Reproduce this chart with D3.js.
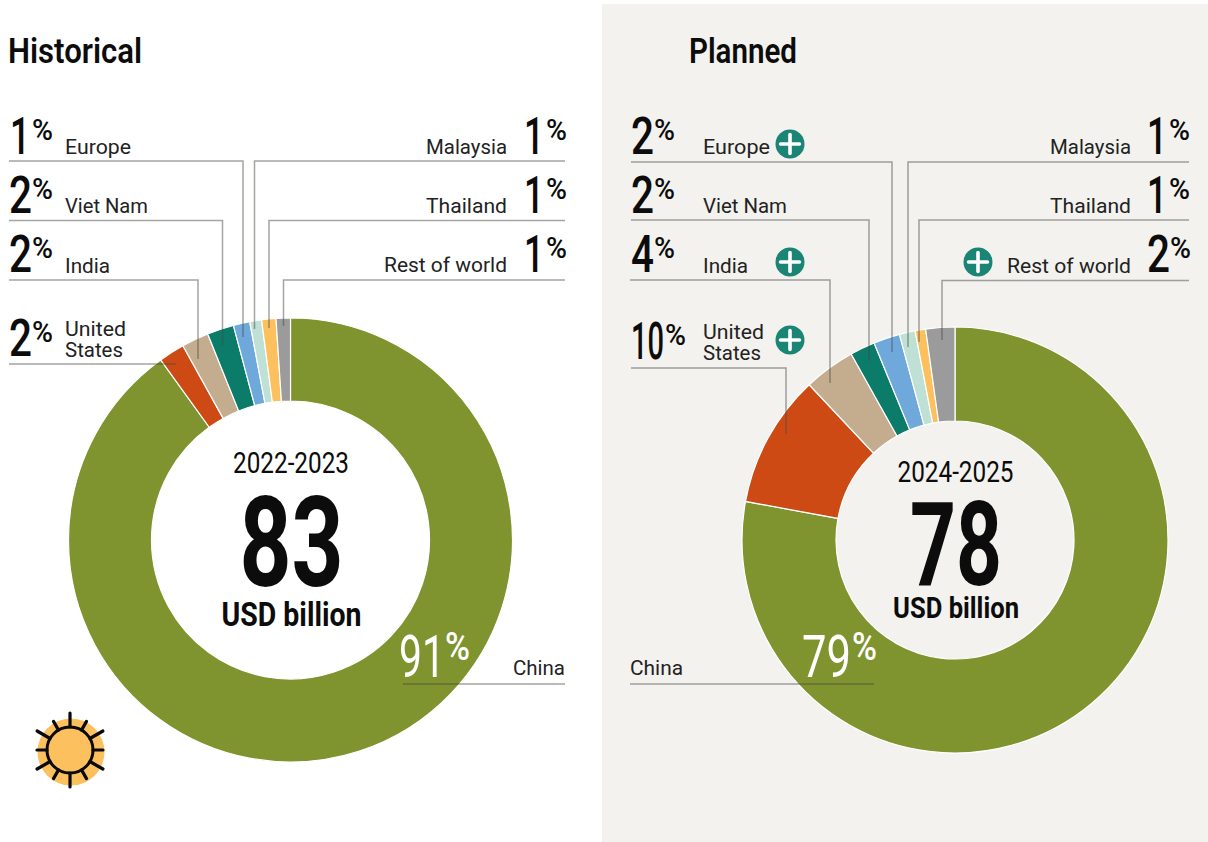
<!DOCTYPE html>
<html><head><meta charset="utf-8">
<script src="https://cdn.jsdelivr.net/npm/d3@7"></script>
<style>html,body{margin:0;padding:0;background:#fff}svg{display:block}text{font-family:Roboto,sans-serif}</style>
</head><body><svg id="c" width="1208" height="842"></svg>
<script>
const categories = ["China","United States","India","Viet Nam","Europe","Malaysia","Thailand","Rest of world"];
const colours = ["#7f932f","#cd4a14","#c4ad8e","#0b7c69","#6fa9dc","#bfe0d4","#fcc15e","#9b9b9b"];
const historicalValues = [90.05,1.89,1.97,1.94,1.2,0.86,1.04,1.04];
const plannedValues = [77.9,10.1,3.9,1.9,2.0,1.2,0.8,2.2];
const historicalLabels = ["91","2","2","2","1","1","1","1"];
const plannedLabels = ["79","10","4","2","2","1","1","2"];
const periods = ["2022-2023","2024-2025"];
const totals = ["83","78"];
const unit = "USD billion";

const svg = d3.select("#c");
const ink = "#0c0c0c", labelInk = "#222";
function txt(s,x,y,size,width,opt={}){
  return svg.append("text").attr("x",x).attr("y",y).attr("font-size",size)
    .attr("font-weight",opt.w||400).attr("fill",opt.f||ink).attr("text-anchor",opt.a||"start")
    .attr("textLength",width).attr("lengthAdjust","spacingAndGlyphs").text(s);
}
svg.append("rect").attr("x",602).attr("y",4).attr("width",606).attr("height",838).attr("fill","#f3f2ee");

function donut(values,cx,cy,ro,ri,stroke){
  const pie = d3.pie().sort(null).startAngle(0).endAngle(2*Math.PI)(values);
  const arc = d3.arc().innerRadius(ri).outerRadius(ro);
  svg.append("g").attr("transform",`translate(${cx},${cy})`).selectAll("path").data(pie).join("path")
    .attr("d",arc).attr("fill",(d,i)=>colours[i]).attr("stroke",stroke).attr("stroke-width",1.2);
}
donut(historicalValues,290.5,540,222,139,"#fff");
donut(plannedValues,955,540,213,119,"#fff");

const leader = (pts)=>svg.append("path").attr("d",d3.line()(pts)).attr("fill","none")
  .attr("stroke","#4a4a46").attr("stroke-opacity",.5).attr("stroke-width",1.5);

// Titles
txt("Historical",8,63,35,134,{w:600});
txt("Planned",689,63,35,108,{w:600});

function pct(val,x,y){ // x: left edge of number
  const n = val.length;
  const w = val==="1"?20:(n===1?23:33);
  txt(val,x-(val==="1"?2:1),y,51,w,{w:500});
  const px = val==="1"?x+20:(n===1?x+22:x+33);
  txt("%",px,y-14,30,21,{w:500});
}
// Historical
const H=historicalLabels, P=plannedLabels;
leader([[9,161],[243,161],[243,337]]);
leader([[9,220.5],[222.5,220.5],[222.5,346]]);
leader([[9,280],[198,280],[198,359]]);
leader([[9,364],[176,364]]);
leader([[565,161],[254.5,161],[254.5,329]]);
leader([[565,220.5],[269,220.5],[269,328]]);
leader([[565,280],[283.5,280],[283.5,326]]);
leader([[403,684],[565,684]]);

pct(H[4],12,154); txt(categories[4],65,154,21,66,{f:labelInk});
pct(H[3],10,213); txt(categories[3],65,213,21,83,{f:labelInk});
pct(H[2],10,272); txt(categories[2],65,273,21,45,{f:labelInk});
pct(H[1],10,356); txt("United",65,336,21,61,{f:labelInk}); txt("States",65,357,21,58,{f:labelInk});
pct(H[5],526,154); txt(categories[5],507,154,21,81,{a:"end",f:labelInk});
pct(H[6],526,213); txt(categories[6],507,213,21,81,{a:"end",f:labelInk});
pct(H[7],526,272); txt(categories[7],507,272,21,123,{a:"end",f:labelInk});
txt(categories[0],565,675,21,52,{a:"end",f:labelInk});
txt(H[0],399,677,60,46,{f:"#fff"}); txt("%",445,660,38,25,{f:"#fff",w:500});
txt(periods[0],291,473,30,116,{a:"middle"});
txt(totals[0],291.5,586,126,104,{a:"middle",w:700});
txt(unit,291.5,626,33,140,{a:"middle",w:700});

// Planned
leader([[631,162],[892,162],[892,352]]);
leader([[631,220],[869,220],[869,361]]);
leader([[630,280],[830,280],[830,383]]);
leader([[631,368],[786,368],[786,434]]);
leader([[1189,162],[908,162],[908,347]]);
leader([[1189,220],[919,220],[919,342]]);
leader([[1189,280.5],[942,280.5],[942,340]]);
leader([[630,684],[874,684]]);

pct(P[4],632,154); txt(categories[4],703,154,21,67,{f:labelInk});
pct(P[3],632,213); txt(categories[3],703,213,21,84,{f:labelInk});
pct(P[2],632,272); txt(categories[2],703,273,21,45,{f:labelInk});
pct(P[1],632,359); txt("United",703,339,21,61,{f:labelInk}); txt("States",703,360,21,58,{f:labelInk});
pct(P[5],1149,154); txt(categories[5],1131,154,21,81,{a:"end",f:labelInk});
pct(P[6],1149,213); txt(categories[6],1131,213,21,81,{a:"end",f:labelInk});
pct(P[7],1148,272); txt(categories[7],1131,273,21,124,{a:"end",f:labelInk});
txt(categories[0],630,675,21,53,{f:labelInk});
txt(P[0],802,677,60,49,{f:"#fff"}); txt("%",852,660,38,25,{f:"#fff",w:500});
txt(periods[1],955.5,482,30,116,{a:"middle"});
txt(totals[1],956,585,116,92,{a:"middle",w:700});
txt(unit,956,618,30,126,{a:"middle",w:700});

// Plus badges
[[790,144],[790,262],[790,340],[978,262]].forEach(([x,y])=>{
  const g=svg.append("g").attr("transform",`translate(${x},${y})`);
  g.append("circle").attr("r",14.5).attr("fill","#1a8575");
  g.append("path").attr("d","M-9.5,0H9.5M0,-9.5V9.5").attr("stroke","#fff").attr("stroke-width",3.6).attr("stroke-linecap","round");
});

// Sun icon
const sun=svg.append("g");
sun.append("circle").attr("cx",71).attr("cy",752).attr("r",33.5).attr("fill","#fcc15e");
sun.append("circle").attr("cx",70).attr("cy",750).attr("r",23).attr("fill","#fcc15e").attr("stroke","#0a0a0a").attr("stroke-width",3);
d3.range(12).forEach(i=>{
  const a=i*Math.PI/6, vert=i%6===0, short=(i%6===1||i%6===5);
  const r2=vert?37:(i%6===3?33:(short?33:38));
  sun.append("line").attr("x1",70+23*Math.sin(a)).attr("y1",750-23*Math.cos(a))
    .attr("x2",70+r2*Math.sin(a)).attr("y2",750-r2*Math.cos(a))
    .attr("stroke","#0a0a0a").attr("stroke-width",3.2).attr("stroke-linecap","round");
});
</script></body></html>
